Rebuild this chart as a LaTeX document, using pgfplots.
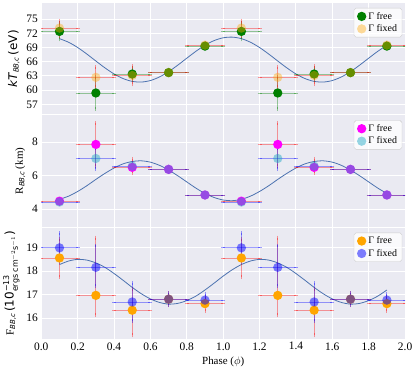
\documentclass[border=0pt]{standalone}
\usepackage{fontspec}
\setmainfont{Liberation Serif}
\newfontfamily\dejavu{DejaVu Sans}
\usepackage{amsmath}
\usepackage{pgfplots}
\usepackage{pgfplotstable}
\pgfplotsset{compat=1.18}
\usepgfplotslibrary{groupplots}

\definecolor{bgc}{RGB}{234,234,242}
\definecolor{curvec}{RGB}{76,114,176}
\definecolor{gfree}{RGB}{0,128,0}
\definecolor{cfix}{RGB}{23,165,195}
\definecolor{morange}{RGB}{255,165,0}
\definecolor{mmag}{RGB}{255,0,255}
\definecolor{mblue}{RGB}{0,0,255}
\definecolor{mred}{RGB}{255,0,0}
\definecolor{legframe}{RGB}{204,204,204}

% phase-resolved blackbody parameters
\pgfplotstableread{
x y ex eyp eym
0.1 72.4 0.1 1.7 1.7
0.3 59.4 0.1 3.3 3.3
0.5 63.4 0.1 1.3 1.3
0.7 63.7 0.1 0.4 0.4
0.9 69.3 0.1 0.5 0.5
1.1 72.4 0.1 1.7 1.7
1.3 59.4 0.1 3.3 3.3
1.5 63.4 0.1 1.3 1.3
1.7 63.7 0.1 0.4 0.4
1.9 69.3 0.1 0.5 0.5
}\ktfree
\pgfplotstableread{
x y ex eyp eym
0.1 73.1 0.1 1.6 1.6
0.3 62.7 0.1 2.1 2.1
0.5 63.1 0.1 1.9 1.9
0.7 63.7 0.1 0.3 0.3
0.9 69.5 0.1 0.4 0.4
1.1 73.1 0.1 1.6 1.6
1.3 62.7 0.1 2.1 2.1
1.5 63.1 0.1 1.9 1.9
1.7 63.7 0.1 0.3 0.3
1.9 69.5 0.1 0.4 0.4
}\ktfix
\pgfplotstableread{
x y ex eyp eym
0.1 4.47 0.1 0.12 0.12
0.3 7.86 0.1 1.28 1.30
0.5 6.49 0.1 0.50 0.35
0.7 6.37 0.1 0.15 0.15
0.9 4.84 0.1 0.10 0.10
1.1 4.47 0.1 0.12 0.12
1.3 7.86 0.1 1.28 1.30
1.5 6.49 0.1 0.50 0.35
1.7 6.37 0.1 0.15 0.15
1.9 4.84 0.1 0.10 0.10
}\rfree
\pgfplotstableread{
x y ex eyp eym
0.1 4.42 0.1 0.10 0.10
0.3 7.02 0.1 0.60 0.62
0.5 6.56 0.1 0.20 0.20
0.7 6.37 0.1 0.15 0.15
0.9 4.84 0.1 0.10 0.10
1.1 4.42 0.1 0.10 0.10
1.3 7.02 0.1 0.60 0.62
1.5 6.56 0.1 0.20 0.20
1.7 6.37 0.1 0.15 0.15
1.9 4.84 0.1 0.10 0.10
}\rfix
\pgfplotstableread{
x y ex eyp eym
0.1 18.56 0.1 0.80 0.81
0.3 16.97 0.1 2.45 0.84
0.5 16.34 0.1 0.90 1.07
0.7 16.81 0.1 0.25 0.25
0.9 16.62 0.1 0.30 0.30
1.1 18.56 0.1 0.80 0.81
1.3 16.97 0.1 2.45 0.84
1.5 16.34 0.1 0.90 1.07
1.7 16.81 0.1 0.25 0.25
1.9 16.62 0.1 0.30 0.30
}\ffree
\pgfplotstableread{
x y ex eyp eym
0.1 18.99 0.1 0.62 0.60
0.3 18.16 0.1 0.93 0.80
0.5 16.69 0.1 0.81 0.80
0.7 16.81 0.1 0.25 0.25
0.9 16.77 0.1 0.25 0.25
1.1 18.99 0.1 0.62 0.60
1.3 18.16 0.1 0.93 0.80
1.5 16.69 0.1 0.81 0.80
1.7 16.81 0.1 0.25 0.25
1.9 16.77 0.1 0.25 0.25
}\ffix

\pgfplotsset{
 errs/.style={
  error bars/x dir=both, error bars/x explicit,
  error bars/y dir=both, error bars/y explicit,
  error bars/error bar style={draw=#1, draw opacity=0.38, line width=0.8pt},
  error bars/error mark options={draw=#1, draw opacity=0.38, line width=0.8pt, mark size=2pt}},
 pts/.style={only marks, mark=*, mark size=4.7pt},
 dot/.style 2 args={mark options={draw opacity=0, line width=0pt, fill=#1, fill opacity=#2}},
}

\begin{document}
\begin{tikzpicture}
\begin{groupplot}[
 group style={group size=1 by 3, vertical sep=1pt, x descriptions at=edge bottom},
 width=366pt, height=112pt, scale only axis,
 xmin=0, xmax=2, xtick={0,0.2,...,2.0},
 axis background/.style={fill=bgc},
 axis line style={draw=none}, tick style={draw=none},
 grid=major, grid style={white, line width=0.9pt},
 /pgf/number format/assume math mode=true,
 ticklabel style={font=\fontsize{11.5}{13}\selectfont},
 xticklabel style={/pgf/number format/.cd, fixed, fixed zerofill, precision=1},
 xlabel={Phase ($\phi$)},
 xlabel style={font=\fontsize{11}{13}\selectfont},
 legend cell align=left,
 legend style={at={(0.992,0.955)}, anchor=north east, fill=white, fill opacity=0.8,
  draw opacity=1, text opacity=1, draw=legframe, rounded corners=2pt,
  font=\fontsize{10}{12}\selectfont, inner xsep=3pt, inner ysep=2pt},
]
\nextgroupplot[ymin=54.9, ymax=78.4, ytick={57,60,...,75},
 ylabel={{\dejavu\itshape\fontsize{12}{14}\selectfont kT}\textsubscript{\dejavu\itshape BB,c}\,{\dejavu\fontsize{12}{14}\selectfont (eV)}}]
\addplot[curvec, line width=0.8pt, smooth, forget plot] coordinates {
(0.10,70.87) (0.15,70.11) (0.20,69.00) (0.25,67.63) (0.30,66.15) (0.35,64.70) (0.40,63.42)
(0.45,62.44) (0.50,61.85) (0.55,61.71) (0.60,62.03) (0.65,62.79) (0.70,63.90) (0.75,65.27)
(0.80,66.75) (0.85,68.20) (0.90,69.48) (0.95,70.46) (1.00,71.05) (1.05,71.19) (1.10,70.87)
(1.15,70.11) (1.20,69.00) (1.25,67.63) (1.30,66.15) (1.35,64.70) (1.40,63.42) (1.45,62.44)
(1.50,61.85) (1.55,61.71) (1.60,62.03) (1.65,62.79) (1.70,63.90) (1.75,65.27) (1.80,66.75)
(1.85,68.20) (1.90,69.48)};
\addplot[pts, dot={gfree}{1}, errs=gfree]
 table[x=x, y=y, x error=ex, y error plus=eyp, y error minus=eym]{\ktfree};
\addlegendentry{Γ free}
\addplot[pts, dot={morange}{0.4}, errs=mred]
 table[x=x, y=y, x error=ex, y error plus=eyp, y error minus=eym]{\ktfix};
\addlegendentry{Γ fixed}

\nextgroupplot[ymin=2.95, ymax=9.6, ytick={4,6,8},
 ylabel={{\fontsize{11}{13}\selectfont R}\textsubscript{\dejavu\itshape BB,c}\,{\fontsize{11}{13}\selectfont (km)}}]
\addplot[curvec, line width=0.8pt, smooth, forget plot] coordinates {
(0.10,4.58) (0.15,4.77) (0.20,5.05) (0.25,5.39) (0.30,5.77) (0.35,6.13) (0.40,6.45)
(0.45,6.70) (0.50,6.84) (0.55,6.88) (0.60,6.80) (0.65,6.61) (0.70,6.33) (0.75,5.99)
(0.80,5.62) (0.85,5.25) (0.90,4.93) (0.95,4.69) (1.00,4.54) (1.05,4.50) (1.10,4.58)
(1.15,4.77) (1.20,5.05) (1.25,5.39) (1.30,5.77) (1.35,6.13) (1.40,6.45) (1.45,6.70)
(1.50,6.84) (1.55,6.88) (1.60,6.80) (1.65,6.61) (1.70,6.33) (1.75,5.99) (1.80,5.62)
(1.85,5.25) (1.90,4.93)};
\addplot[pts, dot={mmag}{1}, errs=mred]
 table[x=x, y=y, x error=ex, y error plus=eyp, y error minus=eym]{\rfree};
\addlegendentry{Γ free}
\addplot[pts, dot={cfix}{0.45}, errs=mblue]
 table[x=x, y=y, x error=ex, y error plus=eyp, y error minus=eym]{\rfix};
\addlegendentry{Γ fixed}

\nextgroupplot[ymin=15.12, ymax=19.85, ytick={16,17,18,19},
 ylabel={{\fontsize{11}{13}\selectfont F}\textsubscript{\dejavu\itshape BB,c}\,{\dejavu\fontsize{12}{14}\selectfont (10$^{\text{−13}}_{\text{ergs cm$^{-2}$s$^{-1}$}}$)}}]
\addplot[curvec, line width=0.8pt, smooth, forget plot] coordinates {
(0.10,18.28) (0.15,18.43) (0.20,18.50) (0.25,18.47) (0.30,18.35) (0.35,18.16) (0.40,17.90)
(0.45,17.61) (0.50,17.31) (0.55,17.04) (0.60,16.82) (0.65,16.67) (0.70,16.60) (0.75,16.63)
(0.80,16.75) (0.85,16.94) (0.90,17.20) (0.95,17.49) (1.00,17.79) (1.05,18.06) (1.10,18.28)
(1.15,18.43) (1.20,18.50) (1.25,18.47) (1.30,18.35) (1.35,18.16) (1.40,17.90) (1.45,17.61)
(1.50,17.31) (1.55,17.04) (1.60,16.82) (1.65,16.67) (1.70,16.60) (1.75,16.63) (1.80,16.75)
(1.85,16.94) (1.90,17.20)};
\addplot[pts, dot={morange}{1}, errs=mred]
 table[x=x, y=y, x error=ex, y error plus=eyp, y error minus=eym]{\ffree};
\addlegendentry{Γ free}
\addplot[pts, dot={mblue}{0.5}, errs=mblue]
 table[x=x, y=y, x error=ex, y error plus=eyp, y error minus=eym]{\ffix};
\addlegendentry{Γ fixed}
\end{groupplot}
\path ([xshift=-39pt,yshift=3pt]group c1r1.north west) rectangle ([xshift=11pt,yshift=-33pt]group c1r3.south east);
\end{tikzpicture}
\end{document}
